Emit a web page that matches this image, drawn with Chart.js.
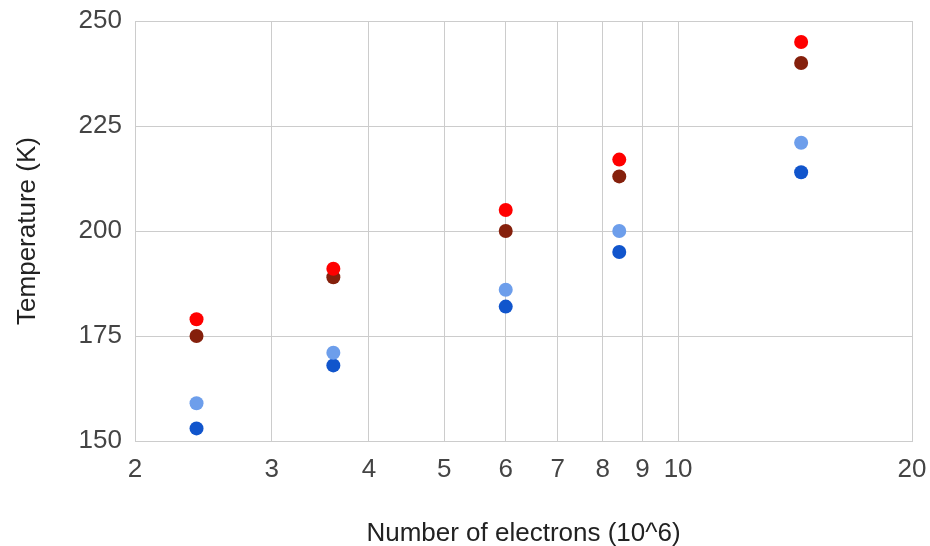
<!DOCTYPE html>
<html>
<head>
<meta charset="utf-8">
<script src="https://cdn.jsdelivr.net/npm/chart.js@4/dist/chart.umd.min.js"></script>
<style>
  html, body { margin: 0; padding: 0; background: #ffffff; }
  #wrap { width: 930px; height: 546px; }
</style>
</head>
<body>
<div id="wrap"><canvas id="c" width="930" height="546"></canvas></div>
<script>
// Number of electrons (10^6) for each measurement
const electrons = [2.4, 3.6, 6.0, 8.4, 14.4];

// Temperatures (K) of the four series
const seriesRed = [179, 191, 205, 217, 245];
const seriesDarkRed = [175, 189, 200, 213, 240];
const seriesLightBlue = [159, 171, 186, 200, 221];
const seriesBlue = [153, 168, 182, 195, 214];

// Axis ticks
const xTicks = [2, 3, 4, 5, 6, 7, 8, 9, 10, 20];
const yTicks = [150, 175, 200, 225, 250];

const seriesNames = ['Series 1', 'Series 2', 'Series 3', 'Series 4'];
const seriesValues = [seriesRed, seriesDarkRed, seriesLightBlue, seriesBlue];
const seriesColors = ['#ff0000', '#85200c', '#6d9eeb', '#1155cc'];

const datasets = seriesValues.map((vals, i) => ({
  label: seriesNames[i],
  data: electrons.map((x, j) => ({ x: x, y: vals[j] })),
  backgroundColor: seriesColors[i],
  borderColor: seriesColors[i],
  borderWidth: 0,
  pointRadius: 7,
  pointHoverRadius: 7
}));

const font = { family: '"Liberation Sans", Arial, sans-serif', size: 26 };
const gridColor = '#cccccc';

// fixed axis box sizes; label overhang is covered by the layout padding
function noOverhang(scale) {
  scale.paddingTop = 0;
  scale.paddingBottom = 0;
  scale.paddingLeft = 0;
  scale.paddingRight = 0;
}

new Chart(document.getElementById('c'), {
  type: 'scatter',
  data: { datasets: datasets },
  options: {
    responsive: false,
    animation: false,
    layout: { padding: { top: 21, right: 18, left: 0, bottom: 0 } },
    plugins: { legend: { display: false }, tooltip: { enabled: false } },
    scales: {
      x: {
        type: 'logarithmic',
        min: 2,
        max: 20,
        afterBuildTicks: (scale) => { scale.ticks = xTicks.map(v => ({ value: v, major: false })); },
        afterFit: (scale) => { scale.height = 105; noOverhang(scale); },
        ticks: {
          autoSkip: false,
          maxRotation: 0,
          padding: 13,
          color: '#444444',
          font: font,
          callback: (value) => String(value)
        },
        grid: { color: gridColor, drawTicks: false, tickLength: 0 },
        border: { color: gridColor },
        title: {
          display: true,
          text: 'Number of electrons (10^6)',
          color: '#222222',
          font: { family: font.family, size: 26, lineHeight: 0.8 },
          padding: { top: 0, bottom: 1.6 }
        }
      },
      y: {
        min: 150,
        max: 250,
        afterBuildTicks: (scale) => { scale.ticks = yTicks.map(v => ({ value: v })); },
        afterFit: (scale) => { scale.width = 135; noOverhang(scale); },
        ticks: {
          padding: 13,
          color: '#444444',
          font: font
        },
        grid: { color: gridColor, drawTicks: false, tickLength: 0 },
        border: { color: gridColor },
        title: {
          display: true,
          text: 'Temperature (K)',
          color: '#222222',
          font: { family: font.family, size: 26, lineHeight: 1 },
          padding: { top: 15, bottom: 0 }
        }
      }
    }
  }
});
</script>
</body>
</html>
